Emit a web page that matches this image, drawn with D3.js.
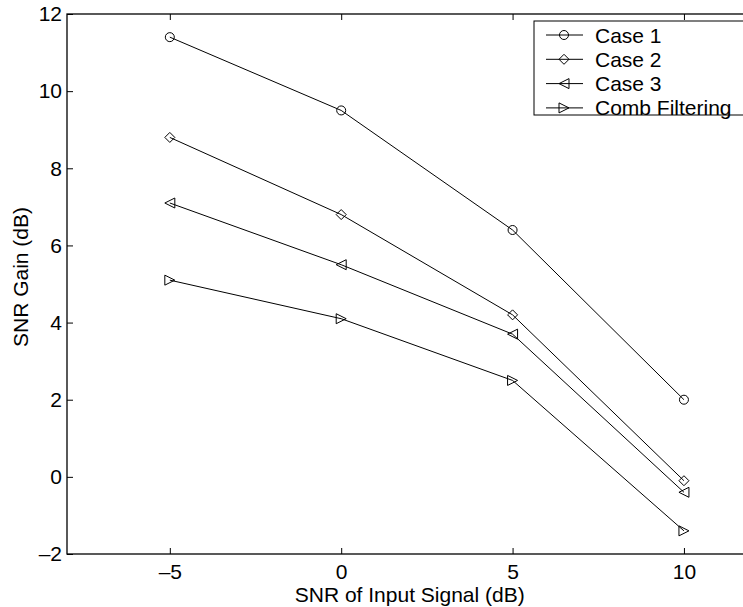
<!DOCTYPE html>
<meta charset="utf-8">
<style>
body{ margin:0; background:#fff; }
svg{ display:block; }
text{ font-family:"Liberation Sans", Arial, sans-serif; font-size:21px; fill:#000; }
.series path{ fill:none; stroke:#000; stroke-width:1; }
.marker{ fill:none; stroke:#000; stroke-width:1; }
</style>
<body>
<script src="https://d3js.org/d3.v7.min.js"></script>
<script>
var xVals = [-5, 0, 5, 10];
var case1 = [11.4, 9.5, 6.4, 2.0];
var case2 = [8.8, 6.8, 4.2, -0.1];
var case3 = [7.1, 5.5, 3.7, -0.4];
var comb  = [5.1, 4.1, 2.5, -1.4];
var seriesNames = ["Case 1", "Case 2", "Case 3", "Comb Filtering"];
var markerTypes = ["circle", "diamond", "triLeft", "triRight"];
var xTicks = [-5, 0, 5, 10];
var yTicks = [-2, 0, 2, 4, 6, 8, 10, 12];

var W = 743, H = 607;
var svg = d3.select("body").append("svg").attr("width", W).attr("height", H);

var x = d3.scaleLinear().domain([-8, 12]).range([67, 752.5]);
var y = d3.scaleLinear().domain([-2, 12]).range([554, 14]);

// frame (right side falls outside the window, as in the picture)
svg.append("rect")
    .attr("x", x(-8)).attr("y", y(12))
    .attr("width", x(12) - x(-8)).attr("height", y(-2) - y(12))
    .attr("fill", "none").attr("stroke", "#000").attr("stroke-width", 1.3);

var fmt = d => d < 0 ? "\u2013" + Math.abs(d) : d;

// axes with inward ticks
svg.append("g").attr("transform", "translate(0," + y(-2) + ")")
    .call(d3.axisBottom(x).tickValues(xTicks).tickSize(-6).tickPadding(10).tickFormat(fmt))
    .call(g => g.select(".domain").remove())
    .call(g => g.selectAll("text").style("font-size", "21px").attr("font-family", null));
svg.append("g").attr("transform", "translate(0," + y(12) + ")")
    .call(d3.axisTop(x).tickValues(xTicks).tickSize(-6).tickFormat(""))
    .call(g => g.select(".domain").remove());
svg.append("g").attr("transform", "translate(" + x(-8) + ",0)")
    .call(d3.axisLeft(y).tickValues(yTicks).tickSize(-6).tickPadding(5).tickFormat(fmt))
    .call(g => g.select(".domain").remove())
    .call(g => g.selectAll("text").style("font-size", "21px").attr("font-family", null));

svg.append("text").attr("x", (x(-8) + x(12)) / 2).attr("y", 602).attr("text-anchor", "middle")
    .text("SNR of Input Signal (dB)");
svg.append("text").attr("transform", "translate(28,277) rotate(-90)")
    .attr("text-anchor", "middle").text("SNR Gain (dB)");

function marker(g, type, cx, cy){
    var s = 5;
    if(type == "circle"){
        g.append("circle").attr("class", "marker").attr("cx", cx).attr("cy", cy).attr("r", 4.5);
    } else if(type == "diamond"){
        g.append("path").attr("class", "marker")
            .attr("d", "M" + cx + "," + (cy - s) + "L" + (cx + s) + "," + cy + "L" + cx + "," + (cy + s) + "L" + (cx - s) + "," + cy + "Z");
    } else if(type == "triLeft"){
        g.append("path").attr("class", "marker")
            .attr("d", "M" + (cx - s) + "," + cy + "L" + (cx + s) + "," + (cy - s) + "L" + (cx + s) + "," + (cy + s) + "Z");
    } else {
        g.append("path").attr("class", "marker")
            .attr("d", "M" + (cx + s) + "," + cy + "L" + (cx - s) + "," + (cy - s) + "L" + (cx - s) + "," + (cy + s) + "Z");
    }
}

var allSeries = [case1, case2, case3, comb];
var line = d3.line().x((d, i) => x(xVals[i])).y(d => y(d));

allSeries.forEach(function(vals, k){
    var g = svg.append("g").attr("class", "series");
    g.append("path").attr("d", line(vals));
    vals.forEach(function(v, i){ marker(g, markerTypes[k], x(xVals[i]), y(v)); });
});

// legend
var lg = svg.append("g");
lg.append("rect").attr("x", 534).attr("y", 21).attr("width", 220).attr("height", 94)
    .attr("fill", "#fff").attr("stroke", "#000").attr("stroke-width", 1);
seriesNames.forEach(function(name, k){
    var ly = 35 + k * 24.3;
    var g = lg.append("g").attr("class", "series");
    g.append("path").attr("d", "M546," + ly + "L583," + ly);
    marker(g, markerTypes[k], 564, ly);
    lg.append("text").attr("x", 595).attr("y", ly + 7.5).text(name);
});
</script>
</body>
